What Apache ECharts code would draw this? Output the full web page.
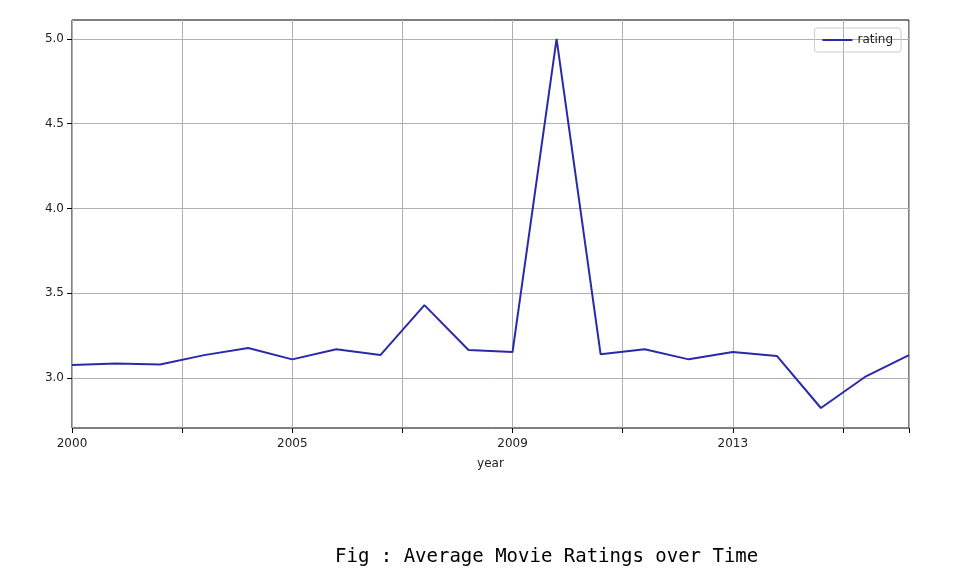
<!DOCTYPE html>
<html>
<head>
<meta charset="UTF-8">
<script src="https://cdn.jsdelivr.net/npm/echarts@6/dist/echarts.min.js"></script>
<style>
  body { margin:0; background:#fff; }
  #chart { width:967px; height:578px; }
</style>
</head>
<body>
<div id="chart"></div>
<script>
    // tick labels at point positions 0, 5, 10, 15
    const tickLabels = {0: '2000', 5: '2005', 10: '2009', 15: '2013'};
    const yTicks = [3.0, 3.5, 4.0, 4.5, 5.0];
    const ratings = [3.077, 3.085, 3.08, 3.135, 3.177, 3.11, 3.17, 3.135, 3.43, 3.165,
                     3.153, 5.0, 3.14, 3.17, 3.11, 3.153, 3.13, 2.823, 3.006, 3.135];

    const chart = echarts.init(document.getElementById('chart'));
    chart.setOption({
        animation: false,
        grid: {left: 72, right: 58, top: 20, bottom: 150, show: true, borderColor: '#000', borderWidth: 1},
        legend: {
            right: 66, top: 28, itemWidth: 30, itemHeight: 2,
            icon: 'rect', borderColor: '#ccc', borderWidth: 1, borderRadius: 3, padding: [6, 8],
            textStyle: {fontFamily: 'DejaVu Sans', fontSize: 12, color: '#222'}
        },
        xAxis: {
            type: 'value', min: 0, max: 19, interval: 2.5,
            name: 'year', nameLocation: 'middle', nameGap: 30,
            nameTextStyle: {fontFamily: 'DejaVu Sans', fontSize: 12, color: '#222'},
            axisLine: {show: false},
            axisTick: {show: true, length: 5, lineStyle: {color: '#000'}},
            axisLabel: {
                fontFamily: 'DejaVu Sans', fontSize: 12, color: '#222', margin: 10,
                formatter: v => tickLabels[v] || ''
            },
            splitLine: {show: true, lineStyle: {color: '#b0b0b0'}}
        },
        yAxis: {
            type: 'value', min: 2.705, max: 5.112,
            axisLine: {show: false},
            axisTick: {show: true, length: 5, lineStyle: {color: '#000'}, customValues: yTicks},
            axisLabel: {
                fontFamily: 'DejaVu Sans', fontSize: 12, color: '#222',
                customValues: yTicks,
                formatter: v => v.toFixed(1)
            },
            splitLine: {show: true, lineStyle: {color: '#b0b0b0'}}
        },
        series: [{
            name: 'rating', type: 'line', symbol: 'none',
            lineStyle: {color: '#2a2aa8', width: 2}, itemStyle: {color: '#2a2aa8'},
            data: ratings.map((r, i) => [i, r])
        }],
        graphic: [{
            type: 'text', left: 335, top: 548,
            style: {text: 'Fig : Average Movie Ratings over Time', font: '19px "DejaVu Sans Mono", monospace', fill: '#000'}
        }]
    });
</script>
</body>
</html>
